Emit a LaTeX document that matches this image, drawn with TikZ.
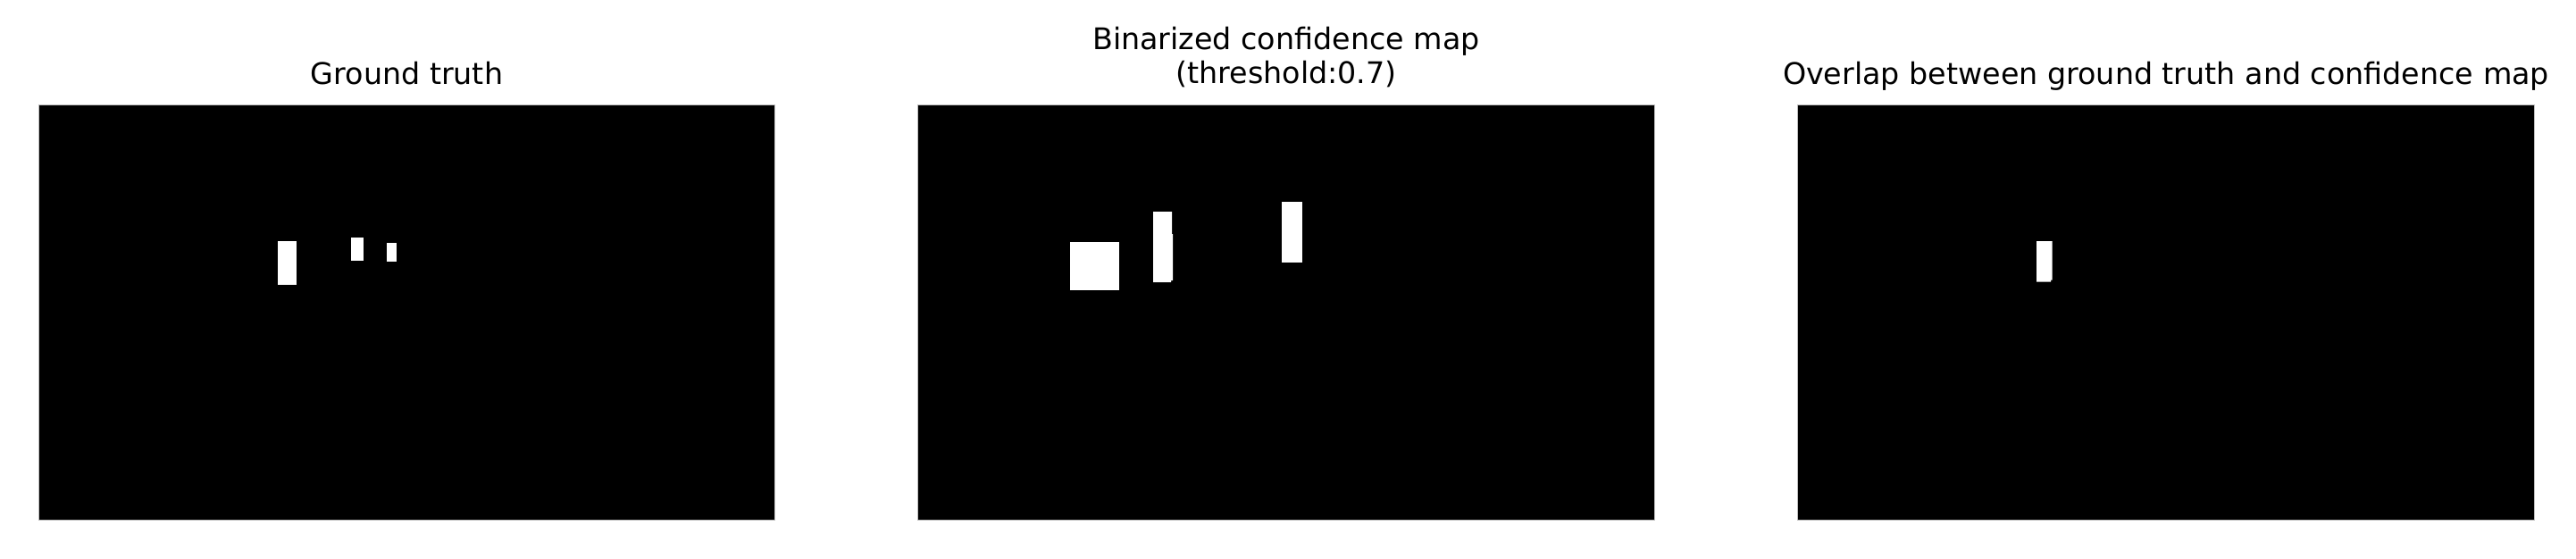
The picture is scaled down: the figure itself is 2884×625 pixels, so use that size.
\documentclass[tikz,border=0pt]{standalone}
\usepackage{fontspec}
\setmainfont{DejaVu Sans}
\usepackage{xcolor}
\usetikzlibrary{positioning}

\begin{document}
\begin{tikzpicture}[
        x=0.36pt, y=-0.36pt,
        panel/.style={fill=black, draw=black!25, line width=0.4pt},
        blob/.style={fill=white},
        ttl/.style={font=\fontsize{12}{14.4}\selectfont, anchor=base, inner sep=0pt}
    ]
        \useasboundingbox (0,0) rectangle (2884,625);

        % ground truth
        \path[panel] (43.5,117.5) rectangle (867.5,582.5);
        \node[ttl] (gtitle) at (455.5,94) {Ground truth};
        \fill[blob] (311,270) rectangle (332,319);
        \fill[blob] (393,266) rectangle (407,292);
        \fill[blob] (433,272) rectangle (444,293);

        % binarized confidence map
        \path[panel] (1027.5,117.5) rectangle (1852.5,582.5);
        \node[ttl] (btitle) at (1440,55.5) {Binarized confidence map};
        \node[ttl] (bthr) at (1440,93.5) {(threshold:0.7)};
        \fill[blob] (1198,271) rectangle (1253,325);
        \fill[blob] (1291,237) -- (1312,237) -- (1312,262) -- (1313,262)
            -- (1313,314) -- (1311,314) -- (1311,316) -- (1291,316) -- cycle;
        \fill[blob] (1435,226) rectangle (1458,294);

        % overlap
        \path[panel] (2012.5,117.5) rectangle (2837.5,582.5);
        \node[ttl] (otitle) at (2425,94) {Overlap between ground truth and confidence map};
        \fill[blob] (2280,270) -- (2297.7,270) -- (2297.7,313.7) -- (2296,313.7)
            -- (2296,315.7) -- (2280,315.7) -- cycle;
    \end{tikzpicture}
\end{document}
